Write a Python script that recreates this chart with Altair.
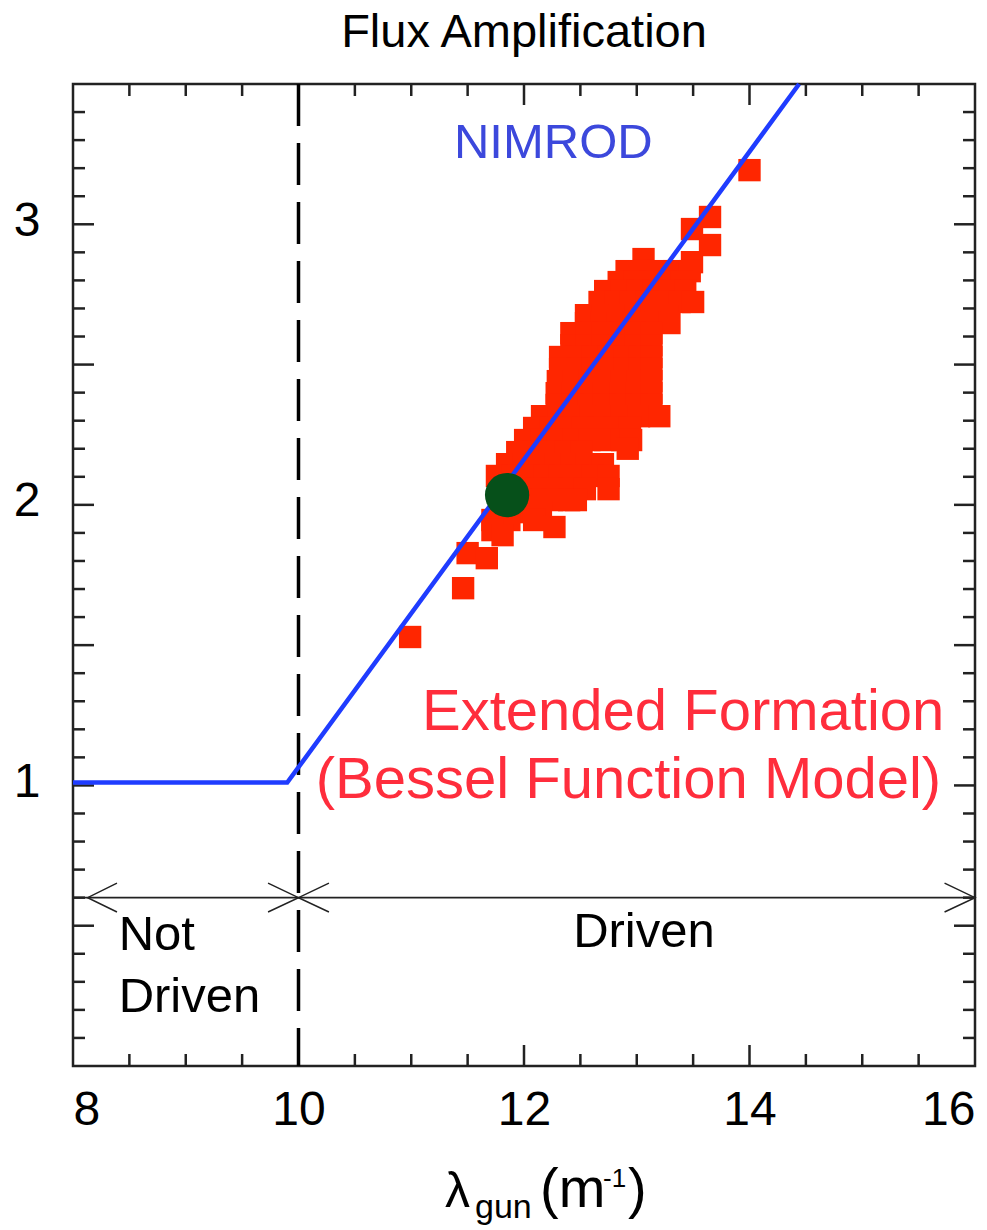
import altair as alt
import pandas as pd

FONT = "Liberation Sans, Arial, Helvetica, sans-serif"
W, H = 902, 982

# ---- data -------------------------------------------------------------
# NIMROD model line
nimrod_x = [8.0, 9.9, 14.44]
nimrod_y = [1.01, 1.01, 3.5]

# Extended formation (Bessel function model) points
sq_x = [14.00, 13.65, 13.49, 13.65, 13.06, 13.49,
        12.91, 13.05, 13.19, 13.33, 13.47,
        12.84, 12.98, 13.12, 13.26, 13.40,
        12.72, 12.87, 13.01, 13.15, 13.29, 13.43,
        12.67, 12.81, 12.95, 13.09, 13.24, 13.38, 13.50,
        12.55, 12.70, 12.85, 12.99, 13.13, 13.27,
        12.55, 12.69, 12.83, 12.97, 13.11, 13.29,
        12.42, 12.56, 12.70, 12.85, 12.99, 13.13,
        12.42, 12.56, 12.70, 12.85, 12.99, 13.13,
        12.32, 12.47, 12.61, 12.75, 12.89, 13.03, 13.13,
        12.32, 12.47, 12.61, 12.75, 12.89, 13.03, 13.13,
        12.30, 12.44, 12.58, 12.72, 12.87, 13.01, 13.13,
        12.29, 12.43, 12.57, 12.71, 12.86, 13.00, 13.13,
        12.29, 12.43, 12.57, 12.71, 12.86, 13.00, 13.13,
        12.16, 12.31, 12.45, 12.59, 12.73, 12.87, 13.02, 13.20,
        12.09, 12.24, 12.38, 12.52, 12.66, 12.80, 12.94,
        12.01, 12.16, 12.30, 12.44, 12.58, 12.72, 12.87, 12.95,
        11.94, 12.08, 12.23, 12.37, 12.51, 12.92,
        11.85, 12.00, 12.14, 12.28, 12.42, 12.56, 12.70,
        11.76, 11.90, 12.04, 12.18, 12.32, 12.47, 12.61, 12.75,
        11.83, 11.97, 12.11, 12.25, 12.40, 12.54, 12.75,
        11.97, 12.11, 12.25, 12.40, 12.46,
        12.00, 12.15,
        11.72, 11.87, 12.09, 12.27,
        11.72, 11.81,
        11.50, 11.67, 11.46, 10.99]
sq_y = [3.193, 3.026, 2.983, 2.926, 2.876, 2.865,
        2.833, 2.833, 2.833, 2.833, 2.833,
        2.794, 2.794, 2.794, 2.794, 2.794,
        2.762, 2.762, 2.762, 2.762, 2.762, 2.762,
        2.723, 2.723, 2.723, 2.723, 2.723, 2.723, 2.723,
        2.676, 2.676, 2.676, 2.676, 2.676, 2.676,
        2.648, 2.648, 2.648, 2.648, 2.648, 2.648,
        2.612, 2.612, 2.612, 2.612, 2.612, 2.612,
        2.569, 2.569, 2.569, 2.569, 2.569, 2.569,
        2.527, 2.527, 2.527, 2.527, 2.527, 2.527, 2.527,
        2.484, 2.484, 2.484, 2.484, 2.484, 2.484, 2.484,
        2.441, 2.441, 2.441, 2.441, 2.441, 2.441, 2.441,
        2.398, 2.398, 2.398, 2.398, 2.398, 2.398, 2.398,
        2.356, 2.356, 2.356, 2.356, 2.356, 2.356, 2.356,
        2.316, 2.316, 2.316, 2.316, 2.316, 2.316, 2.316, 2.316,
        2.274, 2.274, 2.274, 2.274, 2.274, 2.274, 2.274,
        2.231, 2.231, 2.231, 2.231, 2.231, 2.231, 2.231, 2.231,
        2.188, 2.188, 2.188, 2.188, 2.188, 2.200,
        2.145, 2.145, 2.145, 2.145, 2.145, 2.145, 2.145,
        2.103, 2.103, 2.103, 2.103, 2.103, 2.103, 2.103, 2.103,
        2.056, 2.056, 2.056, 2.056, 2.056, 2.056, 2.056,
        2.017, 2.017, 2.017, 2.017, 2.017,
        1.974, 1.974,
        1.946, 1.946, 1.946, 1.921,
        1.910, 1.892,
        1.828, 1.810, 1.703, 1.529]

# experimental point
exp_x = [11.85]
exp_y = [2.035]

# Driven / not driven arrows
arrow_x = [8.0, 16.0]
arrow_y = [0.6, 0.6]
chev_id = ["a", "a", "a", "b", "b", "b", "c", "c", "c", "d", "d", "d"]
chev_x = [8.39, 8.13, 8.39, 9.73, 10.0, 9.73, 10.27, 10.0, 10.27, 15.73, 16.0, 15.73]
chev_y = [0.652, 0.6, 0.549, 0.652, 0.6, 0.549, 0.652, 0.6, 0.549, 0.652, 0.6, 0.549]

threshold_x = [10.0]

# tick positions
x_labels = [8, 10, 12, 14, 16]
y_labels = [1, 2, 3]
x_minor = [8.5, 9.0, 9.5, 10.5, 11.0, 11.5, 12.5, 13.0, 13.5, 14.5, 15.0, 15.5]
x_major = [10.0, 12.0, 14.0]
y_minor = [0.1, 0.2, 0.3, 0.4, 0.6, 0.7, 0.8, 0.9, 1.1, 1.2, 1.3, 1.4, 1.6, 1.7,
           1.8, 1.9, 2.1, 2.2, 2.3, 2.4, 2.6, 2.7, 2.8, 2.9, 3.1, 3.2, 3.3, 3.4]
y_major = [0.5, 1.0, 1.5, 2.0, 2.5, 3.0]

# annotations
ann_text = ["NIMROD", "Extended Formation", "(Bessel Function Model)", "Not", "Driven", "Driven"]
ann_x = [12.26, 15.728, 15.70, 8.405, 8.405, 13.064]
ann_y = [3.236, 1.197, 0.955, 0.413, 0.192, 0.424]

# ---- scales / shared axes ----------------------------------------------
xs = alt.Scale(domain=[8, 16], nice=False, zero=False)
ys = alt.Scale(domain=[0, 3.5], nice=False, zero=False)

AX_X = alt.Axis(values=x_labels, format="d", labelFlush=True, ticks=False, tickSize=0,
                domain=False, grid=False, labelFontSize=48, labelFont=FONT,
                labelColor="#000", labelPadding=20, title=None)
AX_Y = alt.Axis(values=y_labels, format="d", ticks=False, tickSize=0, domain=False,
                grid=False, labelFontSize=48, labelFont=FONT, labelColor="#000",
                labelPadding=33, labelOffset=-3, title=None)


def X(f):
    return alt.X(f, scale=xs, axis=AX_X, title=None)


def Y(f):
    return alt.Y(f, scale=ys, axis=AX_Y, title=None)


line_df = pd.DataFrame({"x": nimrod_x, "y": nimrod_y})
sq_df = pd.DataFrame({"x": sq_x, "y": sq_y})
exp_df = pd.DataFrame({"x": exp_x, "y": exp_y})
arrow_df = pd.DataFrame({"x": arrow_x, "y": arrow_y})
chev_df = pd.DataFrame({"id": chev_id, "x": chev_x, "y": chev_y, "o": list(range(len(chev_x)))})
thr_df = pd.DataFrame({"x": threshold_x, "top": [3.5], "bot": [0.0]})

TICK_COLOR = "#222222"


def yticks(vals, length):
    d = pd.DataFrame({"v": vals})
    left = alt.Chart(d).mark_rule(color=TICK_COLOR, strokeWidth=2.5).encode(
        y=Y("v:Q"), x=alt.value(0), x2=alt.value(length))
    right = alt.Chart(d).mark_rule(color=TICK_COLOR, strokeWidth=2.5).encode(
        y=Y("v:Q"), x=alt.value(W), x2=alt.value(W - length))
    return [left, right]


def xticks(vals, length):
    d = pd.DataFrame({"v": vals})
    bottom = alt.Chart(d).mark_rule(color=TICK_COLOR, strokeWidth=2.5).encode(
        x=X("v:Q"), y=alt.value(H), y2=alt.value(H - length))
    top = alt.Chart(d).mark_rule(color=TICK_COLOR, strokeWidth=2.5).encode(
        x=X("v:Q"), y=alt.value(0), y2=alt.value(length))
    return [bottom, top]


tick_layers = yticks(y_minor, 12) + yticks(y_major, 21) + xticks(x_minor, 12) + xticks(x_major, 21)

threshold = alt.Chart(thr_df).mark_rule(color="#000", strokeWidth=3.5, strokeDash=[42, 17]).encode(
    x=X("x:Q"), y=Y("top:Q"), y2="bot:Q")

arrow_line = alt.Chart(arrow_df).mark_line(color="#222", strokeWidth=1.8).encode(
    x=X("x:Q"), y=Y("y:Q"))

chevrons = alt.Chart(chev_df).mark_line(color="#222", strokeWidth=1.5).encode(
    x=X("x:Q"), y=Y("y:Q"), detail="id:N", order="o:Q")

squares = alt.Chart(sq_df).mark_point(shape="square", filled=True, size=500, color="#ff2600",
                                      opacity=1).encode(x=X("x:Q"), y=Y("y:Q"))

nimrod = alt.Chart(line_df).mark_line(color="#1f3cff", strokeWidth=4.5).encode(
    x=X("x:Q"), y=Y("y:Q"))

exp_pt = alt.Chart(exp_df).mark_point(shape="circle", filled=True, size=1960, color="#06501a",
                                      opacity=1).encode(x=X("x:Q"), y=Y("y:Q"))


def ann(i, color, size, align):
    d = pd.DataFrame({"t": [ann_text[i]], "x": [ann_x[i]], "y": [ann_y[i]]})
    return alt.Chart(d).mark_text(color=color, fontSize=size, font=FONT, align=align,
                                  baseline="alphabetic").encode(
        x=X("x:Q"), y=Y("y:Q"), text="t:N")


RED_TXT = "#ff2d3c"
ann_layers = [
    ann(0, "#3c48dc", 49, "center"),
    ann(1, RED_TXT, 58, "right"),
    ann(2, RED_TXT, 58, "right"),
    ann(3, "#000", 49, "left"),
    ann(4, "#000", 49, "left"),
    ann(5, "#000", 49, "center"),
]


def free_text(txt, x, y, size, align="left", baseline="alphabetic"):
    return alt.Chart(pd.DataFrame({"t": [txt]})).mark_text(
        fontSize=size, font=FONT, color="#000", align=align, baseline=baseline).encode(
        x=alt.value(x), y=alt.value(y), text="t:N")


title_layers = [
    free_text("Flux Amplification", W / 2, -37, 47, align="center"),
    free_text("λ", 372, 1123, 50),
    free_text("gun", 402, 1134, 34),
    free_text("(m", 467, 1123, 56),
    free_text("-1", 530, 1103, 26),
    free_text(")", 555, 1123, 56),
]

chart = alt.layer(
    *tick_layers, threshold, arrow_line, chevrons, squares, nimrod, exp_pt,
    *ann_layers, *title_layers
).properties(
    width=W, height=H,
    autosize=alt.AutoSizeParams(type="none"),
    padding={"left": 73, "top": 84, "right": 12, "bottom": 164},
).configure_view(
    stroke="#222222", strokeWidth=2.5, fill="white"
)

chart.save("out.html", embed_options={"renderer": "svg", "actions": False})
